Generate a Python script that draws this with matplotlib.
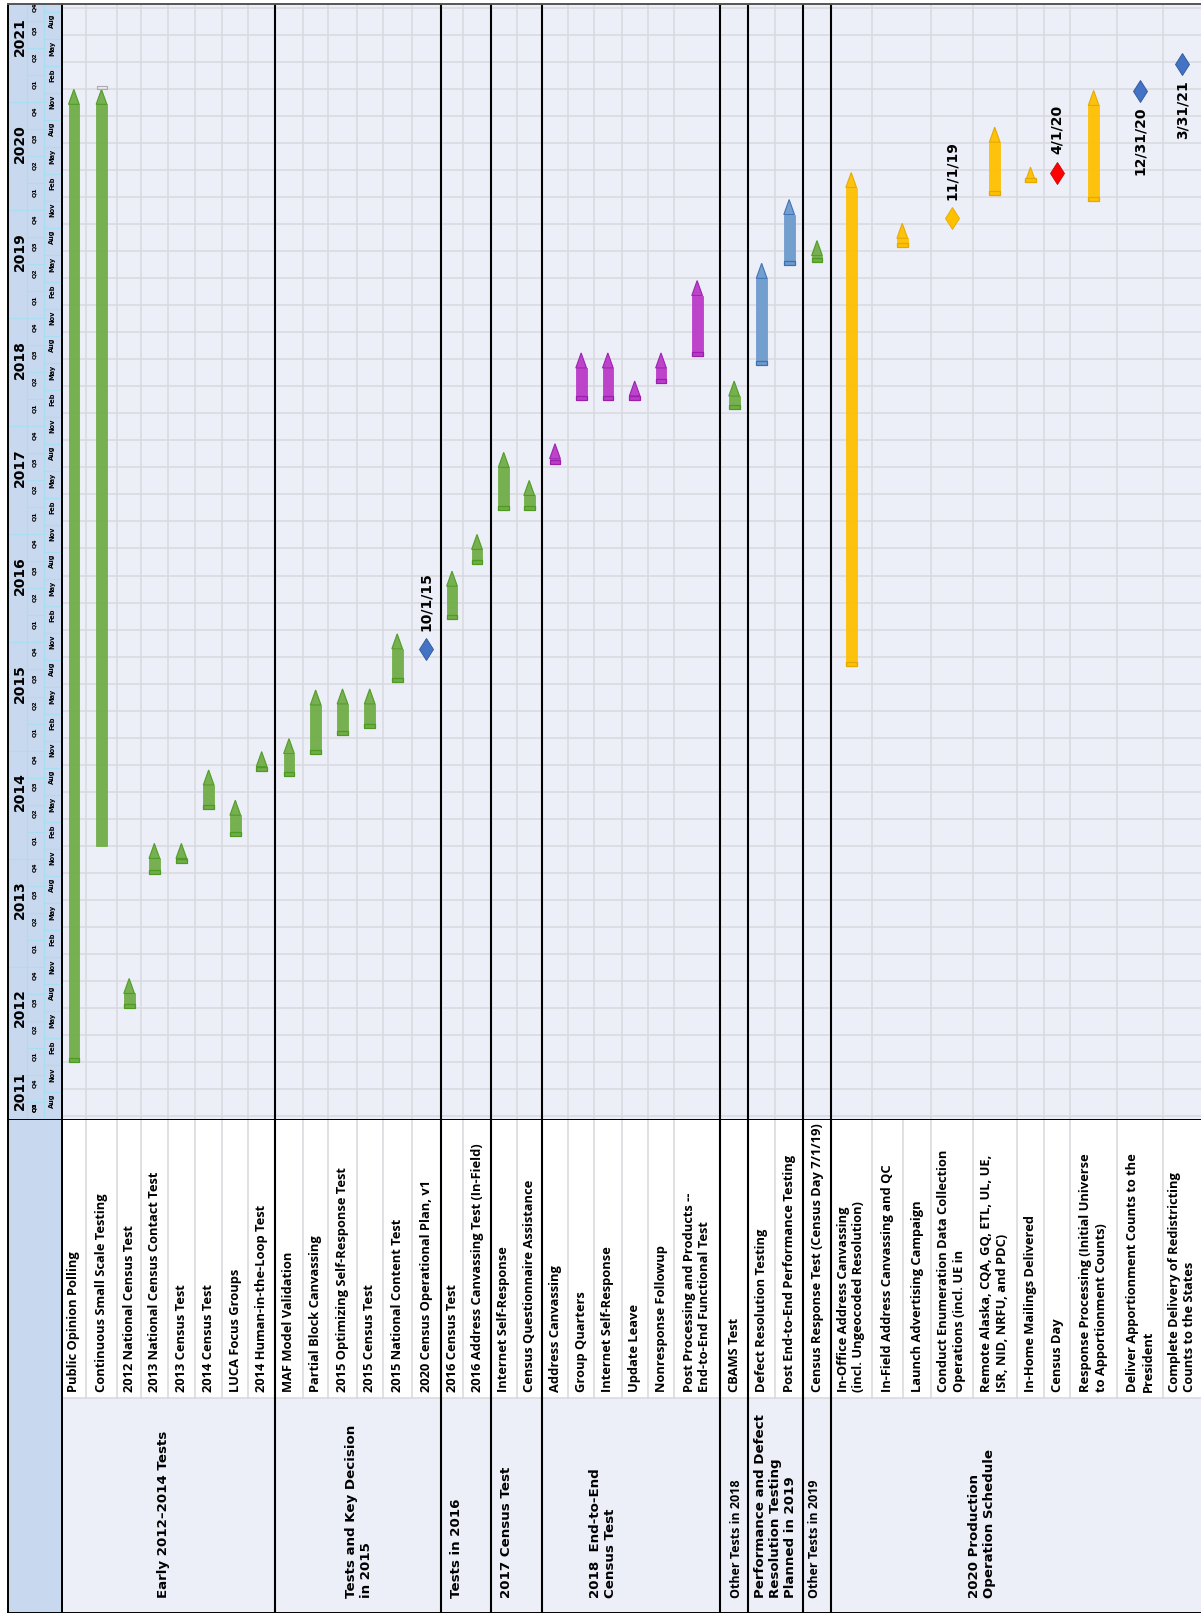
import numpy as np
import matplotlib
matplotlib.use("Agg")
import matplotlib.pyplot as plt
from matplotlib.patches import Rectangle, Polygon

# ---- data -------------------------------------------------------------
tasks = [
    "Public Opinion Polling",
    "Continuous Small Scale Testing",
    "2012 National Census Test",
    "2013 National Census Contact Test",
    "2013 Census Test",
    "2014 Census Test",
    "LUCA Focus Groups",
    "2014 Human-in-the-Loop Test",
    "MAF Model Validation",
    "Partial Block Canvassing",
    "2015 Optimizing Self-Response Test",
    "2015 Census Test",
    "2015 National Content Test",
    "2020 Census Operational Plan, v1",
    "2016 Census Test",
    "2016 Address Canvassing Test (In-Field)",
    "Internet Self-Response",
    "Census Questionnaire Assistance",
    "Address Canvassing",
    "Group Quarters",
    "Internet Self-Response",
    "Update Leave",
    "Nonresponse Followup",
    "Post Processing and Products --\nEnd-to-End Functional Test",
    "CBAMS Test",
    "Defect Resolution Testing",
    "Post End-to-End Performance Testing",
    "Census Response Test (Census Day 7/1/19)",
    "In-Office Address Canvassing\n(incl. Ungeocoded Resolution)",
    "In-Field Address Canvassing and QC",
    "Launch Advertising Campaign",
    "Conduct Enumeration Data Collection\nOperations (incl. UE in",
    "Remote Alaska, CQA, GQ, ETL, UL, UE,\nISR, NID, NRFU, and PDC)",
    "In-Home Mailings Delivered",
    "Census Day",
    "Response Processing (Initial Universe\nto Apportionment Counts)",
    "Deliver Apportionment Counts to the\nPresident",
    "Complete Delivery of Redistricting\nCounts to the States",
]

groups = [
    "Early 2012\u20132014 Tests",
    "Tests and Key Decision\nin 2015",
    "Tests in 2016",
    "2017 Census Test",
    "2018  End-to-End\nCensus Test",
    "Other Tests in 2018",
    "Performance and Defect\nResolution Testing\nPlanned in 2019",
    "Other Tests in 2019",
    "2020 Production\nOperation Schedule",
]
group_first = [0, 8, 14, 16, 18, 24, 25, 27, 28]

# bars: column index (0-based), start / end in decimal years, colour key
bar_col = [0, 1, 2, 3, 4, 5, 6, 7, 8, 9, 10, 11, 12, 14, 15, 16, 17,
           18, 19, 20, 21, 22, 23, 24, 25, 26, 27, 28, 29.5, 32, 33, 35]
bar_start = [2012.00, 2014.00, 2012.50, 2013.74, 2013.84, 2014.34, 2014.09,
             2014.69, 2014.64, 2014.85, 2015.02, 2015.09, 2015.51, 2016.10,
             2016.61, 2017.11, 2017.11, 2017.53, 2018.12, 2018.12, 2018.12,
             2018.28, 2018.53, 2018.04, 2018.45, 2019.37, 2019.40, 2015.66,
             2019.54, 2020.02, 2020.14, 2019.97]
bar_end = [2021.00, 2021.00, 2012.77, 2014.02, 2014.02, 2014.70, 2014.42,
           2014.87, 2014.99, 2015.44, 2015.45, 2015.45, 2015.96, 2016.54,
           2016.88, 2017.64, 2017.38, 2017.72, 2018.56, 2018.56, 2018.30,
           2018.56, 2019.23, 2018.30, 2019.39, 2019.98, 2019.60, 2020.23,
           2019.76, 2020.65, 2020.28, 2020.99]
bar_kind = ["green"] * 17 + ["purple"] * 6 + ["green", "blue", "blue", "green"] \
    + ["yellow"] * 5

# milestones
ms_col = [13, 31, 34, 36, 37]
ms_date = [2015.82, 2019.81, 2020.23, 2020.985, 2021.23]
ms_kind = ["blue", "yellow", "red", "blue", "blue"]
ms_text = ["10/1/15", "11/1/19", "4/1/20", "12/31/20", "3/31/21"]
ms_above = [True, True, True, False, False]

years = list(range(2011, 2022))
quarter_names = ["Q1", "Q2", "Q3", "Q4"]
month_names = ["Feb", "May", "Aug", "Nov"]

# ---- layout -----------------------------------------------------------
W, H = 1201, 1613
edges = [62, 85.7, 117.3, 141, 167.7, 195, 222.3, 248.3, 275, 303, 328.3,
         356.7, 382.7, 411.7, 440.7, 463.3, 490.7, 516.7, 541.7, 568.3, 594,
         621.7, 647.7, 674.3, 720, 748.3, 775, 803.3, 830.7, 871.7, 903.3,
         930.7, 972.7, 1016.7, 1044.3, 1070, 1117.3, 1163.3, 1201]
centers = [(a + b) / 2 for a, b in zip(edges[:-1], edges[1:])]
merged_edges = {30}
group_text_x = [164, 359, 457, 507, 603, 737, 775, 815, 982]
T0, T1 = 2011.46, 2021.79
PX_PER_YEAR = 108.04

BG = "#eceef8"
HEAD = "#c8d8ee"
GRID = "#d9d9de"
CELL = "#a9def2"
colors = {
    "green": ("#70ad47", "#4e9a22"),
    "purple": ("#bb3ac9", "#9a1fad"),
    "blue": ("#6d9bcd", "#3d70b5"),
    "yellow": ("#ffc000", "#e3a900"),
}
ms_colors = {"blue": ("#4472c4", "#2f5597"), "yellow": ("#ffc000", "#e3a900"),
             "red": ("#ff0000", "#d00000")}
LABEL_FONT = ["Open Sans", "DejaVu Sans"]


def frac(x0, y0, x1, y1):
    return [x0 / W, 1 - y1 / H, (x1 - x0) / W, (y1 - y0) / H]


fig = plt.figure(figsize=(W / 100, H / 100), dpi=100)
fig.patch.set_facecolor("white")

ax = fig.add_axes(frac(62, 4, W, 1120))
hd = fig.add_axes(frac(8, 4, 62, 1120))
lab = fig.add_axes(frac(62, 1120, W, H))
corner = fig.add_axes(frac(8, 1120, 62, H))

for a in (ax, hd, lab, corner):
    a.set_xticks([])
    a.set_yticks([])
    for s in a.spines.values():
        s.set_color("black")
        s.set_linewidth(1.4)

# ---- chart area -------------------------------------------------------
ax.set_facecolor(BG)
ax.set_xlim(edges[0], edges[-1])
ax.set_ylim(T0, T1)
ax.spines["right"].set_visible(False)
ax.spines["top"].set_color("#555555")

for y in years:
    for q in range(4):
        t = y + q / 4
        if T0 < t < T1:
            ax.axhline(t, color=GRID, lw=1.1, zorder=0)

group_edges = set(group_first[1:])
for i in range(1, len(edges) - 1):
    if i in group_edges:
        ax.axvline(edges[i], color="black", lw=1.5, zorder=1)
    elif i not in merged_edges:
        ax.axvline(edges[i], color=GRID, lw=1.1, zorder=0)

BW = 10.7
TIP = 15 / PX_PER_YEAR
BAND = 4 / PX_PER_YEAR


def pencil(xc, t0, t1, fc, ec, band=True):
    body_top = max(t1 - TIP, t0)
    if body_top > t0:
        ax.add_patch(Rectangle((xc - BW / 2, t0), BW, body_top - t0,
                               fc=fc, ec=fc, lw=0.6, alpha=0.95, zorder=3))
    ax.add_patch(Polygon([(xc - BW / 2, body_top), (xc + BW / 2, body_top),
                          (xc, t1)], closed=True, fc=fc, ec=ec, lw=0.8,
                         alpha=0.95, zorder=3))
    if band:
        ax.add_patch(Rectangle((xc - BW / 2, t0), BW, BAND,
                               fc=fc, ec=ec, lw=0.9, zorder=4))


bar_x = np.interp(bar_col, np.arange(len(centers)), centers)
for x, t0, t1, k, c in zip(bar_x, bar_start, bar_end, bar_kind, bar_col):
    fc, ec = colors[k]
    pencil(x, t0, t1, fc, ec, band=(c != 1))
    if c == 1:
        ax.add_patch(Rectangle((x - 5, t1), 10, 0.028, fc="none",
                               ec="#aaaaaa", lw=0.8, zorder=4))

ms_x = np.interp(ms_col, np.arange(len(centers)), centers)
for x, t, k, txt, above in zip(ms_x, ms_date, ms_kind, ms_text, ms_above):
    fc, ec = ms_colors[k]
    ax.plot(x, t, marker="d", ms=11.5, mfc=fc, mec=ec, mew=0.6, zorder=5)
    ax.annotate(txt, (x, t), xytext=(0, 13 if above else -11),
                textcoords="offset points", rotation=90, ha="center",
                va="bottom" if above else "top", fontsize=10,
                fontweight="bold", family="DejaVu Sans")

# ---- time header ------------------------------------------------------
hd.set_facecolor(HEAD)
hd.set_xlim(8, 62)
hd.set_ylim(T0, T1)
hd.spines["top"].set_color("#555555")
hd.axvline(26.7, color=CELL, lw=0.8)
hd.axvline(44, color=CELL, lw=0.8)
for y in years:
    yb = y - 0.12
    if T0 < yb < T1:
        hd.plot([8, 26.7], [yb, yb], color=CELL, lw=0.8)
    yc = min(max(y + 0.5, T0 + 0.27), T1 - 0.3)
    hd.text(19.5, yc, str(y), rotation=90, ha="center", va="center",
            fontsize=10, fontweight="bold", family="DejaVu Sans")
    for q in range(4):
        qs = y + q / 4
        if qs + 0.25 <= T0 or qs >= T1:
            continue
        for yy, x0, x1 in ((qs - 0.12, 26.7, 44), (qs - 0.03, 44, 62)):
            if T0 < yy < T1:
                hd.plot([x0, x1], [yy, yy], color=CELL, lw=0.8)
        qpos = min(max(qs + 0.05, T0 + 0.12), T1 - 0.03)
        hd.text(34.5, qpos, quarter_names[q], rotation=90, ha="center",
                va="center", fontsize=4.5, fontweight="bold",
                family="DejaVu Sans")
        mpos = qs + 0.133
        if T0 < mpos < T1:
            hd.text(52, mpos, month_names[q], rotation=90, ha="center",
                    va="center", fontsize=4.8, fontweight="bold",
                    family="DejaVu Sans")

# ---- label area -------------------------------------------------------
lab.set_xlim(edges[0], edges[-1])
lab.set_ylim(H, 1120)
lab.spines["right"].set_visible(False)
lab.spines["top"].set_visible(False)
lab.add_patch(Rectangle((edges[0], 1120), edges[-1] - edges[0], 278,
                        fc="white", ec="none", zorder=0))
lab.add_patch(Rectangle((edges[0], 1398), edges[-1] - edges[0], H - 1398,
                        fc=BG, ec="none", zorder=0))
lab.plot([edges[0], edges[-1]], [1398, 1398], color=GRID, lw=1.1, zorder=1)
for i in range(1, len(edges) - 1):
    if i in group_edges:
        lab.axvline(edges[i], color="black", lw=1.5, zorder=2)
    else:
        lab.plot([edges[i], edges[i]], [1120, 1398], color=GRID, lw=1.1,
                 zorder=1)

for xc, name in zip(centers, tasks):
    lab.text(xc, 1392, name, rotation=90, ha="center", va="bottom",
             fontsize=9.3, fontweight="bold", family=LABEL_FONT,
             linespacing=1.25, multialignment="left", zorder=3)

for gx, g in zip(group_text_x, groups):
    small = g.startswith("Other")
    lab.text(gx, 1598, g, rotation=90, ha="center", va="bottom",
             fontsize=9.0 if small else 9.6, fontweight="bold",
             family=LABEL_FONT if small else "DejaVu Sans",
             linespacing=1.2, multialignment="left", zorder=3)

corner.set_facecolor(HEAD)
corner.spines["top"].set_visible(False)

fig.savefig("out.png", dpi=100)
